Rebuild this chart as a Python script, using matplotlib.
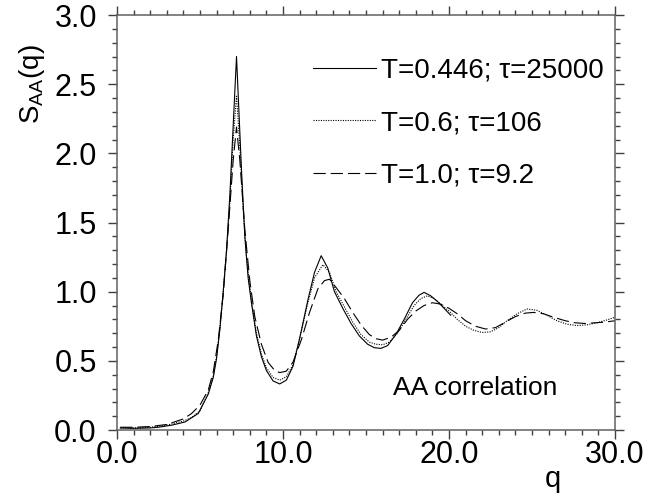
import matplotlib.pyplot as plt
from matplotlib.ticker import MultipleLocator, FormatStrFormatter

plt.rcParams['font.family'] = ['Liberation Sans', 'DejaVu Sans']
plt.rcParams['mathtext.default'] = 'regular'

# S_AA(q)
q_low = [0.2, 1.0, 2.0, 2.5, 3.3, 4.1, 4.9, 5.5, 5.8, 6.0, 6.2, 6.4, 6.6, 6.8, 7.0, 7.2,
         7.5, 7.7, 7.9, 8.1, 8.4, 8.7, 9.0, 9.4, 9.8, 10.2, 10.6, 11.0, 11.5, 11.9, 12.3,
         12.7, 13.1, 13.6, 14.1, 14.6, 15.1, 15.5, 15.9, 16.3, 16.8, 17.3, 17.8, 18.2,
         18.5, 18.9, 19.3, 19.7, 20.1]
s_low = [0.015, 0.012, 0.015, 0.02, 0.035, 0.058, 0.12, 0.26, 0.38, 0.52, 0.73, 1.0, 1.3,
         1.7, 2.2, 2.7, 1.88, 1.4, 1.1, 0.92, 0.68, 0.53, 0.43, 0.355, 0.333, 0.36, 0.46,
         0.66, 0.94, 1.14, 1.26, 1.17, 1.0, 0.88, 0.77, 0.68, 0.62, 0.595, 0.59, 0.61,
         0.69, 0.8, 0.92, 0.975, 0.995, 0.97, 0.93, 0.88, 0.83]

q_mid = [0.2, 1.0, 2.0, 3.0, 4.0, 4.5, 5.0, 5.5, 5.8, 6.0, 6.2, 6.4, 6.6, 6.8, 7.0, 7.2,
         7.4, 7.6, 7.8, 8.1, 8.4, 8.7, 9.0, 9.4, 9.8, 10.2, 10.6, 11.0, 11.5, 11.9, 12.4,
         12.8, 13.2, 13.7, 14.2, 14.7, 15.2, 15.6, 16.0, 16.4, 16.9, 17.4, 17.9, 18.3,
         18.7, 19.1, 19.5, 20.0, 20.5, 21.0, 21.5, 22.0, 22.5, 23.0, 23.5, 24.1, 24.7,
         25.3, 25.9, 26.5, 27.1, 27.7, 28.3, 28.9, 29.5, 30.0]
s_mid = [0.015, 0.015, 0.02, 0.035, 0.065, 0.09, 0.14, 0.27, 0.39, 0.53, 0.74, 1.0, 1.3,
         1.65, 2.1, 2.42, 2.05, 1.6, 1.25, 0.93, 0.7, 0.55, 0.45, 0.38, 0.36, 0.385, 0.47,
         0.66, 0.92, 1.1, 1.195, 1.14, 1.0, 0.89, 0.78, 0.69, 0.635, 0.62, 0.616, 0.635,
         0.7, 0.8, 0.9, 0.95, 0.97, 0.95, 0.91, 0.86, 0.8, 0.75, 0.72, 0.705, 0.71, 0.74,
         0.79, 0.84, 0.875, 0.865, 0.83, 0.79, 0.765, 0.755, 0.76, 0.775, 0.795, 0.815]

q_high = [0.2, 1.0, 2.0, 3.0, 4.0, 4.5, 5.0, 5.5, 5.8, 6.1, 6.4, 6.7, 7.0, 7.2, 7.4, 7.7,
          8.0, 8.3, 8.7, 9.1, 9.5, 9.8, 10.2, 10.6, 11.1, 11.6, 12.1, 12.5, 12.8, 13.2,
          13.7, 14.2, 14.7, 15.2, 15.6, 16.0, 16.5, 17.0, 17.5, 18.0, 18.5, 19.0, 19.5,
          20.0, 20.5, 21.0, 21.6, 22.2, 22.8, 23.4, 24.0, 24.6, 25.1, 25.7, 26.3, 27.0,
          27.6, 28.2, 28.8, 29.4, 30.0]
s_high = [0.02, 0.02, 0.025, 0.04, 0.08, 0.12, 0.18, 0.29, 0.42, 0.65, 0.98, 1.45, 1.95,
          2.19, 1.95, 1.45, 1.08, 0.82, 0.62, 0.49, 0.43, 0.415, 0.425, 0.49, 0.65, 0.85,
          1.02, 1.08, 1.09, 1.03, 0.95, 0.85, 0.76, 0.69, 0.66, 0.65, 0.67, 0.72, 0.8, 0.86,
          0.9, 0.92, 0.91, 0.88, 0.84, 0.79, 0.75, 0.73, 0.74, 0.78, 0.82, 0.845, 0.85,
          0.84, 0.815, 0.79, 0.775, 0.77, 0.775, 0.78, 0.79]

labels = ['T=0.446; \u03c4=25000', 'T=0.6; \u03c4=106', 'T=1.0; \u03c4=9.2']

fig = plt.figure(figsize=(6.46, 4.97), dpi=100)
ax = fig.add_axes([0.1811, 0.1348, 0.7709, 0.835])

ax.plot(q_low, s_low, color='black', lw=0.8, ls='-', label=labels[0])
ax.plot(q_mid, s_mid, color='black', lw=0.8, ls=(0, (1, 1.2)), label=labels[1])
ax.plot(q_high, s_high, color='black', lw=0.8, ls=(0, (11, 4.5)), label=labels[2])

ax.set_xlim(0, 30)
ax.set_ylim(0, 3.0)
ax.xaxis.set_major_locator(MultipleLocator(10))
ax.xaxis.set_minor_locator(MultipleLocator(1))
ax.yaxis.set_major_locator(MultipleLocator(0.5))
ax.yaxis.set_minor_locator(MultipleLocator(0.1))
ax.xaxis.set_major_formatter(FormatStrFormatter('%.1f'))
ax.yaxis.set_major_formatter(FormatStrFormatter('%.1f'))

for sp in ax.spines.values():
    sp.set_color('#606060')
    sp.set_linewidth(1.1)
ax.tick_params(which='both', direction='out', top=True, right=True,
               color='#404040', width=1.0, labelsize=22)
ax.tick_params(which='major', length=6.5)
ax.tick_params(which='minor', length=3.6)
ax.tick_params(axis='x', pad=1)
ax.tick_params(axis='y', pad=8)

ax.legend(loc='upper left', bbox_to_anchor=(0.394, 0.897), frameon=False,
          fontsize=20, borderpad=0, borderaxespad=0, handlelength=2.25,
          handletextpad=0.2, labelspacing=0.95)

ax.text(16.64, 0.25, 'AA correlation', fontsize=19, va='baseline', ha='left')

fig.text(0.05, 0.83, '$S_{AA}(q)$', rotation=90, fontsize=20, ha='center', va='center')
fig.text(0.856, 0.02, 'q', fontsize=21, ha='center', va='baseline')

fig.savefig('out.png', dpi=100)
